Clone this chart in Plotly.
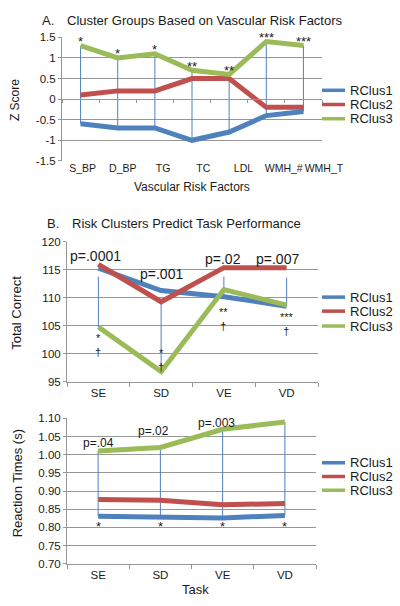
import plotly.graph_objects as go

W, H = 400, 606

SERIES = ["RClus1", "RClus2", "RClus3"]
COLORS = ["#4F81BD", "#C0504D", "#9BBB59"]

# ---- Panel A: Z scores by vascular risk factor ----
RISK_FACTORS = ["S_BP", "D_BP", "TG", "TC", "LDL", "WMH_#", "WMH_T"]
A_RCLUS1 = [-0.6, -0.7, -0.7, -1.0, -0.8, -0.4, -0.3]
A_RCLUS2 = [0.1, 0.2, 0.2, 0.5, 0.5, -0.2, -0.2]
A_RCLUS3 = [1.3, 1.0, 1.1, 0.7, 0.6, 1.4, 1.3]
A_SIG = ["*", "*", "*", "**", "**", "***", "***"]
Z_TICKS = [-1.5, -1, -0.5, 0, 0.5, 1, 1.5]
Z_TICK_TEXT = ["-1.5", "-1", "-0.5", "0", "0.5", "1", "1.5"]

# ---- Panel B: total correct by task ----
TASKS = ["SE", "SD", "VE", "VD"]
B_RCLUS1 = [115.3, 111.3, 110.2, 108.5]
B_RCLUS2 = [116.0, 109.3, 115.4, 115.4]
B_RCLUS3 = [104.8, 96.8, 111.5, 108.7]
B_DROP_TOP = [113.8, 109.3, 113.8, 113.6]
B_PVALS = ["p=.0001", "p=.001", "p=.02", "p=.007"]
B_PVAL_Y = [117.5, 114.3, 116.9, 116.9]
B_SIG = ["*", "*", "**", "***"]
B_SIG_Y = [101.6, 98.9, 106.2, 105.4]
B_TICKS = [95, 100, 105, 110, 115, 120]

# ---- Panel C: reaction times by task ----
C_RCLUS1 = [0.831, 0.829, 0.826, 0.833]
C_RCLUS2 = [0.877, 0.875, 0.862, 0.866]
C_RCLUS3 = [1.010, 1.020, 1.070, 1.090]
C_PVALS = ["p=.04", "p=.02", "p=.003", "p=.002"]
C_PVAL_Y = [1.033, 1.065, 1.087, 1.117]
C_SIG = ["*", "*", "*", "*"]
C_SIG_Y = [0.813, 0.813, 0.813, 0.813]
C_TICKS = [0.70, 0.75, 0.80, 0.85, 0.90, 0.95, 1.00, 1.05, 1.10]
C_TICK_TEXT = ["0.70", "0.75", "0.80", "0.85", "0.90", "0.95", "1.00", "1.05", "1.10"]

FONT = "Arial, 'Liberation Sans', sans-serif"
TXT = "#1a1a1a"
GRID = "#969696"
DROP = "#4F81BD"
LW = 5


def px_x(p):
    return p / W


def px_y(p):
    return 1 - p / H


fig = go.Figure()


def add_drops(cats, tops, bottoms, xa, ya):
    xs, ys = [], []
    for c, t, b in zip(cats, tops, bottoms):
        xs += [c, c, None]
        ys += [t, b, None]
    fig.add_trace(go.Scatter(x=xs, y=ys, mode="lines", line=dict(color=DROP, width=1),
                             xaxis=xa, yaxis=ya, showlegend=False, hoverinfo="skip"))


def add_series(cats, data, xa, ya):
    for name, vals, col in zip(SERIES, data, COLORS):
        fig.add_trace(go.Scatter(x=cats, y=vals, name=name, mode="lines",
                                 line=dict(color=col, width=LW),
                                 xaxis=xa, yaxis=ya, showlegend=False))


# Panel A
A_DATA = [A_RCLUS1, A_RCLUS2, A_RCLUS3]
add_drops(RISK_FACTORS, [max(v) for v in zip(*A_DATA)], [min(v) for v in zip(*A_DATA)], "x", "y")
add_series(RISK_FACTORS, A_DATA, "x", "y")
# invisible carriers for the zero-crossing axis and the category label axis
fig.add_trace(go.Scatter(x=RISK_FACTORS, y=A_RCLUS2, mode="lines", opacity=0,
                         xaxis="x4", yaxis="y", showlegend=False, hoverinfo="skip"))
fig.add_trace(go.Scatter(x=RISK_FACTORS, y=A_RCLUS2, mode="lines", opacity=0,
                         xaxis="x5", yaxis="y5", showlegend=False, hoverinfo="skip"))

# Panel B
B_DATA = [B_RCLUS1, B_RCLUS2, B_RCLUS3]
add_drops(TASKS, B_DROP_TOP, [min(v) for v in zip(*B_DATA)], "x2", "y2")
add_series(TASKS, B_DATA, "x2", "y2")

# Panel C
C_DATA = [C_RCLUS1, C_RCLUS2, C_RCLUS3]
add_drops(TASKS, [max(v) for v in zip(*C_DATA)], [min(v) for v in zip(*C_DATA)], "x3", "y3")
add_series(TASKS, C_DATA, "x3", "y3")

dA_x = [px_x(62), px_x(322)]
dA_lbl_x = [px_x(62.5), px_x(344)]
dA_y = [px_y(158), px_y(32)]
dB_x = [px_x(67), px_x(318)]
dB_y = [px_y(383.3), px_y(240.7)]
dC_x = [px_x(67), px_x(316)]
dC_y = [px_y(569), px_y(420.7)]

tickfont = dict(family=FONT, size=11.5, color=TXT)


def cat_axis(domain, anchor, cats, **kw):
    d = dict(domain=domain, anchor=anchor, type="category", categoryorder="array",
             categoryarray=cats, range=[-0.5, len(cats) - 0.5], showgrid=False,
             zeroline=False, tickfont=tickfont, fixedrange=True, tickangle=0)
    d.update(kw)
    return d


def val_axis(domain, anchor, rng, tickvals, ticktext):
    return dict(domain=domain, anchor=anchor, range=rng, tickvals=tickvals, ticktext=ticktext,
                showgrid=True, gridcolor=GRID, gridwidth=1, zeroline=False,
                showline=True, linecolor=GRID, linewidth=1, ticks="outside", ticklen=3,
                tickcolor=GRID, tickfont=tickfont, fixedrange=True)


fig.update_layout(
    width=W, height=H, margin=dict(l=0, r=0, t=0, b=0),
    paper_bgcolor="white", plot_bgcolor="rgba(0,0,0,0)", showlegend=False,
    font=dict(family=FONT, color=TXT),
    xaxis=cat_axis(dA_x, "y", RISK_FACTORS, showline=False, ticks="", showticklabels=False),
    xaxis4=cat_axis(dA_x, "free", RISK_FACTORS, overlaying="x",
                    position=dA_y[0] + 0.5 * (dA_y[1] - dA_y[0]),
                    showline=True, linecolor=GRID, linewidth=1, ticks="outside",
                    ticklen=3, tickcolor=GRID, tickson="boundaries", showticklabels=False),
    xaxis5=cat_axis(dA_lbl_x, "y5", RISK_FACTORS, showline=False, ticks="",
                    tickfont=dict(family=FONT, size=10.5, color=TXT)),
    yaxis5=dict(domain=dA_y, anchor="x5", range=[-1.5, 1.5], visible=False,
                showgrid=False, zeroline=False, fixedrange=True),
    yaxis=val_axis(dA_y, "x", [-1.5, 1.5], Z_TICKS, Z_TICK_TEXT),
    xaxis2=cat_axis(dB_x, "y2", TASKS, showline=True, linecolor=GRID, ticks="outside",
                    ticklen=4, tickcolor=GRID, tickson="boundaries"),
    yaxis2=val_axis(dB_y, "x2", [95, 120], B_TICKS, [str(v) for v in B_TICKS]),
    xaxis3=cat_axis(dC_x, "y3", TASKS, showline=True, linecolor=GRID, ticks="outside",
                    ticklen=4, tickcolor=GRID, tickson="boundaries"),
    yaxis3=val_axis(dC_y, "x3", [0.70, 1.10], C_TICKS, C_TICK_TEXT),
)

ann = []


def txt(x, y, s, size, **kw):
    d = dict(x=x, y=y, text=s, showarrow=False, xanchor="center", yanchor="middle",
             font=dict(family=FONT, size=size, color=TXT))
    d.update(kw)
    ann.append(d)


# titles
txt(px_x(40), px_y(15), "A.", 13, xref="paper", yref="paper", xanchor="left")
txt(px_x(65), px_y(15), "Cluster Groups Based on Vascular Risk Factors", 13,
    xref="paper", yref="paper", xanchor="left")
txt(px_x(45), px_y(222), "B.", 13, xref="paper", yref="paper", xanchor="left")
txt(px_x(70), px_y(222), "Risk Clusters Predict Task Performance", 13,
    xref="paper", yref="paper", xanchor="left")

# axis titles
txt(px_x(192), px_y(185), "Vascular Risk Factors", 12, xref="paper", yref="paper")
txt(px_x(15), px_y(96), "Z Score", 12, xref="paper", yref="paper", textangle=-90)
txt(px_x(17), px_y(313), "Total Correct", 13, xref="paper", yref="paper", textangle=-90)
txt(px_x(17), px_y(487), "Reaction Times (s)", 13, xref="paper", yref="paper", textangle=-90)
txt(px_x(195), px_y(595), "Task", 13, xref="paper", yref="paper")

# significance marks panel A
for c, v, s in zip(RISK_FACTORS, A_RCLUS3, A_SIG):
    txt(c, v, s, 13, xref="x", yref="y", yshift=4)

# panel B annotations
for i, c in enumerate(TASKS):
    txt(c, B_PVAL_Y[i], B_PVALS[i], 14, xref="x2", yref="y2", xshift=[-3, 0, -1, -9][i])
    txt(c, B_SIG_Y[i], B_SIG[i] + "<br>†", 11, xref="x2", yref="y2")

# panel C annotations
for i, c in enumerate(TASKS):
    txt(c, C_PVAL_Y[i], C_PVALS[i], 12, xref="x3", yref="y3", xshift=[0, -7, -6, -3][i])
    txt(c, C_SIG_Y[i], C_SIG[i], 13, xref="x3", yref="y3", yshift=-3.5)

# manual legends
shapes = []
LEG_Y = [[86, 100.5, 115], [297, 311.3, 326.5], [466, 480, 494]]
for rows in LEG_Y:
    for name, col, yy in zip(SERIES, COLORS, rows):
        shapes.append(dict(type="line", xref="paper", yref="paper",
                           x0=px_x(322), x1=px_x(345), y0=px_y(yy), y1=px_y(yy),
                           line=dict(color=col, width=3.5)))
        txt(px_x(348), px_y(yy), name, 13, xref="paper", yref="paper", xanchor="left")

fig.update_layout(annotations=ann, shapes=shapes)

fig.write_html("out.html", config={"displayModeBar": False},
               post_script="document.body.style.margin='0px';")
